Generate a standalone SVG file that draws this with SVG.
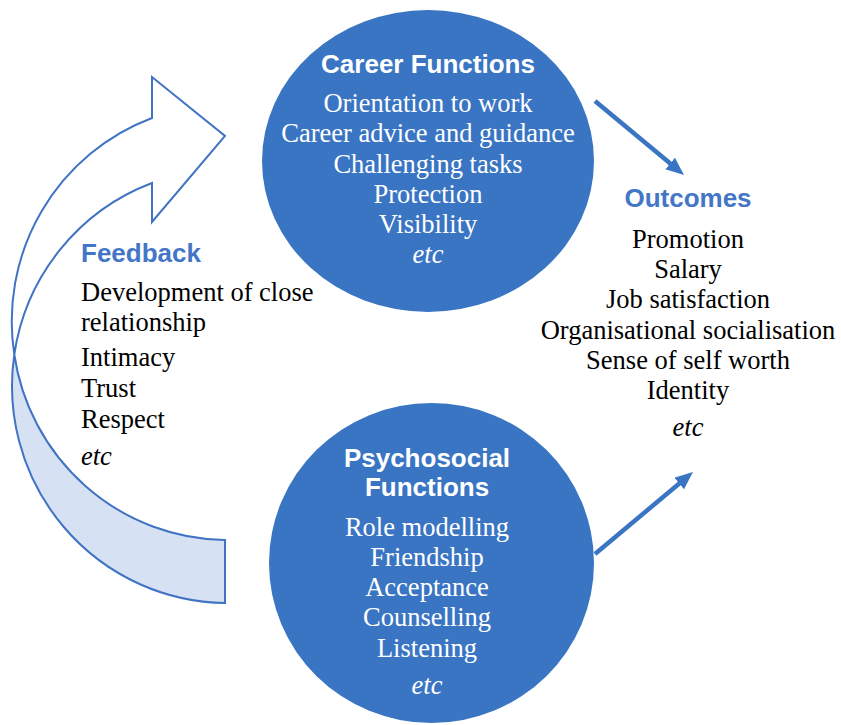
<svg xmlns="http://www.w3.org/2000/svg" width="841" height="725" viewBox="0 0 841 725">
<style>
.node{fill:#3A75C4}
.head{font-family:"Liberation Sans",Arial,sans-serif;font-weight:bold;font-size:26px;text-anchor:middle}
.w{fill:#FFFFFF}
.blue{fill:#4476C7}
.ser{font-family:"Liberation Serif","Times New Roman",serif;font-size:26.5px}
.mid{text-anchor:middle}
.it{font-style:italic}
.blk{fill:#000000}
.conn{stroke:#3A75C4;stroke-width:4.5;fill:none}
.fb{stroke:#4173C4;stroke-width:2;stroke-linejoin:miter}
</style>
<defs>
<marker id="ah" markerUnits="userSpaceOnUse" markerWidth="19" markerHeight="16" refX="8" refY="7.5" orient="auto">
<path d="M0,0 L18,7.5 L0,15 z" fill="#3A75C4"/>
</marker>
</defs>
<g id="feedback-arrow">
<path class="fb" fill="#D6E1F3" d="M14.3,354.5 A216,217 0 0 0 225,540 L225,603 A216,217 0 0 1 14.3,354.5 Z"/>
<path class="fb" fill="#FFFFFF" d="M152,183 A216,217 0 0 0 14.3,354.5 A216,217 0 0 1 152,118 L152,77 L225,136 L152,222 Z"/>
</g>
<g id="connectors">
<line class="conn" x1="595" y1="101" x2="676.3" y2="168.6" marker-end="url(#ah)"/>
<line class="conn" x1="595" y1="554" x2="685.3" y2="478.4" marker-end="url(#ah)"/>
</g>
<g id="career">
<ellipse class="node" cx="428" cy="161" rx="166" ry="151"/>
<text class="head w" x="428" y="73">Career Functions</text>
<text class="ser mid w" x="428" y="112">Orientation to work</text>
<text class="ser mid w" x="428" y="142">Career advice and guidance</text>
<text class="ser mid w" x="428" y="172.5">Challenging tasks</text>
<text class="ser mid w" x="428" y="203">Protection</text>
<text class="ser mid w" x="428" y="233">Visibility</text>
<text class="ser mid w it" x="428" y="263">etc</text>
</g>
<g id="psychosocial">
<ellipse class="node" cx="431.5" cy="563" rx="162.5" ry="160"/>
<text class="head w" x="427" y="467">Psychosocial</text>
<text class="head w" x="427" y="496">Functions</text>
<text class="ser mid w" x="427" y="536">Role modelling</text>
<text class="ser mid w" x="427" y="566">Friendship</text>
<text class="ser mid w" x="427" y="596">Acceptance</text>
<text class="ser mid w" x="427" y="626">Counselling</text>
<text class="ser mid w" x="427" y="657">Listening</text>
<text class="ser mid w it" x="427" y="694">etc</text>
</g>
<g id="outcomes">
<text class="head blue" x="688" y="207">Outcomes</text>
<text class="ser mid blk" x="688" y="248">Promotion</text>
<text class="ser mid blk" x="688" y="278">Salary</text>
<text class="ser mid blk" x="688" y="308">Job satisfaction</text>
<text class="ser mid blk" x="688" y="339">Organisational socialisation</text>
<text class="ser mid blk" x="688" y="369">Sense of self worth</text>
<text class="ser mid blk" x="688" y="399">Identity</text>
<text class="ser mid blk it" x="688" y="436">etc</text>
</g>
<g id="feedback">
<text class="head blue" x="81" y="262" style="text-anchor:start">Feedback</text>
<text class="ser blk" x="81" y="301">Development of close</text>
<text class="ser blk" x="81" y="331">relationship</text>
<text class="ser blk" x="81" y="366">Intimacy</text>
<text class="ser blk" x="81" y="397">Trust</text>
<text class="ser blk" x="81" y="428">Respect</text>
<text class="ser blk it" x="81" y="465">etc</text>
</g>
</svg>
